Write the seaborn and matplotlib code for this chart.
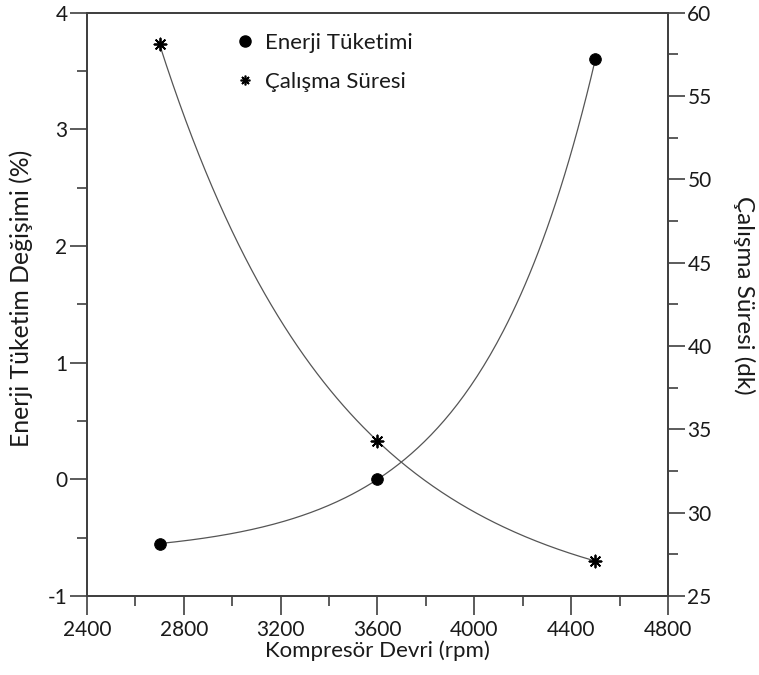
import numpy as np
import pandas as pd
import matplotlib
matplotlib.use("Agg")
import matplotlib.pyplot as plt
import seaborn as sns
from matplotlib.ticker import AutoMinorLocator
from matplotlib.lines import Line2D

# data
devir = [2700, 3600, 4500]                  # Kompresör Devri (rpm)
enerji = [-0.55, 0.0, 3.6]                  # Enerji Tüketim Değişimi (%)
sure = [58.1, 34.3, 27.1]                   # Çalışma Süresi (dk)

x_ticks = [2400, 2800, 3200, 3600, 4000, 4400, 4800]
y_left_ticks = [-1, 0, 1, 2, 3, 4]
y_right_ticks = [25, 30, 35, 40, 45, 50, 55, 60]

sns.set_style("white")
plt.rcParams['font.family'] = ['Lato', 'DejaVu Sans']
plt.rcParams['axes.unicode_minus'] = False

def smooth_curve(x, y, n=200):
    # exponential curve y = a + b*r**t through the three equally spaced points
    x = np.asarray(x, float)
    y = np.asarray(y, float)
    r = (y[2] - y[1]) / (y[1] - y[0])
    b = (y[2] - y[1]) / (r * (r - 1))
    a = y[0] - b
    xs = np.linspace(x[0], x[-1], n)
    t = (xs - x[0]) / (x[1] - x[0])
    return xs, a + b * r ** t

fig = plt.figure(figsize=(7.59, 6.75), dpi=100)
ax = fig.add_axes([0.1146, 0.117, 0.7654, 0.864])
ax2 = ax.twinx()

line_col = "#555555"
spine_col = "#404040"
text_col = "#1a1a1a"

xs, ys = smooth_curve(devir, enerji)
sns.lineplot(x=xs, y=ys, ax=ax, color=line_col, lw=0.9)
sns.scatterplot(x=devir, y=enerji, ax=ax, color="black", s=70, marker="o",
                edgecolor="black", zorder=5)

xs2, ys2 = smooth_curve(devir, sure)
sns.lineplot(x=xs2, y=ys2, ax=ax2, color=line_col, lw=0.9)
ax2.scatter(devir, sure, marker=(8, 2, 0), s=75, color="black", lw=1.3, zorder=5)

ax.set_xlim(2400, 4800)
ax.set_ylim(-1, 4)
ax2.set_ylim(25, 60)
ax.set_xticks(x_ticks)
ax.set_yticks(y_left_ticks)
ax2.set_yticks(y_right_ticks)
ax.xaxis.set_minor_locator(AutoMinorLocator(2))
ax.yaxis.set_minor_locator(AutoMinorLocator(2))
ax2.yaxis.set_minor_locator(AutoMinorLocator(2))

for a in (ax, ax2):
    for s in a.spines.values():
        s.set_color(spine_col)
        s.set_linewidth(1.3)
    a.tick_params(which="major", length=12, width=1.2, color=spine_col,
                  labelsize=15, labelcolor=text_col, direction="out")
    a.tick_params(which="minor", length=7, width=1.2, color=spine_col, direction="out")
ax.tick_params(axis="x", which="major", length=14)
ax.tick_params(axis="x", which="minor", length=7)
ax.tick_params(left=True, bottom=True, which="both")
ax2.tick_params(right=True, which="both")
ax.tick_params(axis="y", pad=2)
ax2.tick_params(axis="y", pad=2)

ax.set_xlabel("Kompresör Devri (rpm)", fontsize=16, color=text_col, labelpad=0)
ax.set_ylabel("Enerji Tüketim Değişimi (%)", fontsize=17.8, color=text_col)
ax2.set_ylabel("Çalışma Süresi (dk)", fontsize=17.5, color=text_col, rotation=270)
ax.yaxis.set_label_coords(-0.093, 0.511)
ax2.yaxis.set_label_coords(1.150, 0.515)

handles = [
    Line2D([], [], ls="none", marker="o", color="black", ms=8),
    Line2D([], [], ls="none", marker=(8, 2, 0), color="black", ms=7, mew=1.2),
]
ax2.legend(handles, ["Enerji Tüketimi", "Çalışma Süresi"], loc="upper left",
           bbox_to_anchor=(0.222, 1.0), frameon=False, fontsize=16,
           handlelength=0.8, handletextpad=0.5, labelspacing=0.85,
           labelcolor=text_col)

fig.savefig("out.png", dpi=100)
